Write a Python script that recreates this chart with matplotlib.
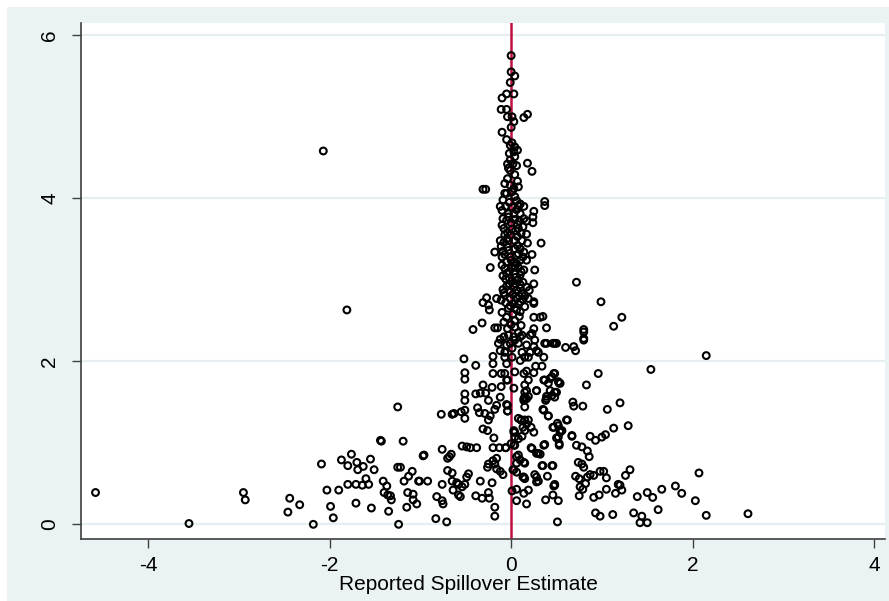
import matplotlib
matplotlib.use("Agg")
import matplotlib.pyplot as plt
from matplotlib.patches import Rectangle
import numpy as np

plt.rcParams['font.family'] = ['Liberation Sans', 'DejaVu Sans']

# estimates, (estimate, precision) pairs grouped by region
left_tail = [
    (-4.58, 0.39), (-3.55, 0.01), (-2.95, 0.39), (-2.93, 0.30), (-2.44, 0.32), (-2.46, 0.15),
    (-2.33, 0.24), (-2.18, 0.00), (-2.09, 0.74), (-2.03, 0.42), (-1.99, 0.22), (-1.96, 0.08),
    (-1.90, 0.42), (-1.87, 0.79), (-1.80, 0.72), (-1.76, 0.86), (-1.80, 0.49), (-1.71, 0.26),
    (-1.70, 0.76), (-1.69, 0.67), (-1.71, 0.49), (-1.64, 0.48), (-1.63, 0.71), (-1.60, 0.56),
    (-1.57, 0.49), (-1.55, 0.80), (-1.54, 0.20), (-1.51, 0.67), (-1.43, 1.02), (-1.41, 0.53),
    (-1.40, 0.39), (-1.37, 0.47), (-1.36, 0.36), (-1.35, 0.16), (-1.33, 0.35), (-1.32, 0.30),
    (-1.25, 0.70), (-1.22, 0.70), (-1.24, 0.00), (-1.19, 1.02), (-1.18, 0.53), (-1.15, 0.21),
    (-1.14, 0.39), (-1.13, 0.59), (-1.09, 0.65), (-1.08, 0.37), (-1.08, 0.30), (-1.04, 0.25),
    (-1.02, 0.53), (-0.96, 0.85), (-0.92, 0.53), (-1.25, 1.44), (-1.44, 1.03), (-2.07, 4.58),
    (-1.81, 2.63),
]

mid_left = [
    (-0.77, 1.35), (-0.65, 1.35), (-0.63, 1.36), (-0.76, 0.92), (-0.70, 0.81), (-0.66, 0.86),
    (-0.97, 0.84), (-0.70, 0.66), (-0.65, 0.63), (-1.01, 0.53), (-0.76, 0.49), (-0.65, 0.53),
    (-0.60, 0.51), (-0.64, 0.42), (-0.58, 0.36), (-0.82, 0.34), (-0.76, 0.29), (-0.75, 0.25),
    (-0.83, 0.07), (-0.71, 0.03), (-0.52, 2.03), (-0.39, 1.95), (-0.20, 1.97), (-0.51, 1.86),
    (-0.51, 1.78), (-0.20, 1.85), (-0.11, 1.85), (-0.05, 1.77), (-0.31, 1.71), (-0.21, 1.68),
    (-0.11, 1.69), (-0.51, 1.60), (-0.39, 1.60), (-0.34, 1.61), (-0.28, 1.61), (-0.51, 1.52),
    (-0.25, 1.52), (-0.12, 1.56), (-0.37, 1.43), (-0.16, 1.46), (-0.04, 1.46), (-0.55, 1.38),
    (-0.51, 1.40), (-0.51, 1.30), (-0.35, 1.37), (-0.29, 1.36), (-0.23, 1.33), (-0.25, 1.28),
    (-0.18, 1.41), (-0.04, 1.39), (-0.31, 1.17), (-0.26, 1.15), (-0.19, 1.06), (-0.54, 0.96),
    (-0.49, 0.95), (-0.45, 0.94), (-0.38, 0.94), (-0.20, 0.94), (-0.13, 0.94), (-0.06, 0.94),
    (-0.68, 0.83), (-0.16, 0.81), (-0.20, 0.78), (-0.25, 0.74), (-0.26, 0.70), (-0.18, 0.74),
    (-0.16, 0.68), (-0.12, 0.65), (-0.09, 0.61), (-0.58, 0.49), (-0.54, 0.46), (-0.51, 0.49),
    (-0.49, 0.58), (-0.47, 0.62), (-0.34, 0.53), (-0.21, 0.51), (-0.56, 0.34), (-0.39, 0.35),
    (-0.32, 0.32), (-0.24, 0.32), (-0.25, 0.39), (-0.18, 0.21), (-0.18, 0.10),
]

mid_right = [
    (0.01, 0.41), (0.06, 0.43), (0.06, 0.29), (0.17, 0.25), (0.19, 0.42), (0.14, 0.38),
    (0.02, 0.67), (0.06, 0.64), (0.14, 0.58), (0.15, 0.56), (0.06, 0.75), (0.10, 0.79),
    (0.15, 0.75), (0.08, 0.85), (0.22, 0.94), (0.30, 0.87), (0.32, 0.86), (0.37, 0.98),
    (0.26, 0.61), (0.28, 0.58), (0.30, 0.53), (0.40, 0.59), (0.47, 0.47), (0.48, 0.49),
    (0.46, 0.72), (0.35, 0.72), (0.38, 0.30), (0.52, 0.29), (0.51, 0.03), (0.00, 0.99),
    (0.03, 0.97), (0.04, 1.07), (0.03, 1.15), (0.08, 1.30), (0.11, 1.28), (0.15, 1.28),
    (0.19, 1.28), (0.13, 1.19), (0.17, 1.23), (0.22, 1.19), (0.25, 1.13), (0.04, 1.13),
    (0.08, 1.05), (0.12, 1.08), (0.15, 1.15), (0.36, 1.40), (0.41, 1.33), (0.46, 1.19),
    (0.51, 1.24), (0.56, 1.15), (0.52, 1.07), (0.53, 0.99), (0.61, 1.28), (0.68, 1.50),
    (0.69, 1.45), (0.79, 1.45), (0.14, 1.52), (0.15, 1.56), (0.19, 1.57), (0.17, 1.64),
    (0.28, 1.64), (0.38, 1.52), (0.39, 1.57), (0.43, 1.64), (0.48, 1.56), (0.50, 1.62),
    (0.36, 1.77), (0.41, 1.73), (0.45, 1.81), (0.48, 1.85), (0.52, 1.75), (0.54, 1.73),
    (0.83, 1.71), (0.15, 1.71), (0.19, 1.77), (0.14, 1.85), (0.17, 1.88), (0.25, 1.86),
    (0.27, 1.94), (0.34, 1.94), (0.36, 2.05), (0.80, 2.26), (0.60, 2.17), (0.69, 2.18),
    (0.71, 2.13), (0.48, 2.22), (0.46, 2.22), (0.37, 2.22), (0.96, 1.85),
    (-0.05, 2.20), (0.04, 2.26), (0.10, 2.30), (0.23, 2.34), (0.25, 2.18), (0.28, 2.13),
    (0.19, 2.05), (0.10, 2.01), (-0.05, 1.97), (0.04, 1.87), (-0.07, 1.85), (-0.04, 1.77),
    (0.03, 1.67), (-0.05, 1.47), (-0.04, 1.39), (0.15, 1.44), (0.17, 1.54), (0.28, 1.64),
    (0.11, 1.28), (0.03, 1.13), (0.04, 0.97), (-0.06, 0.94), (0.06, 0.83), (0.03, 0.67),
    (0.14, 0.76), (0.23, 0.93), (0.28, 0.87), (0.36, 0.97), (0.47, 1.19), (0.52, 1.21),
    (0.54, 1.13), (0.50, 1.06), (0.67, 1.08), (0.35, 1.41), (0.41, 1.33), (0.37, 1.77),
    (0.43, 1.79), (0.47, 1.85), (0.53, 1.73), (0.48, 1.62), (0.45, 1.58), (0.39, 1.54),
    (0.15, 1.62), (0.14, 1.54),
]

right_tail = [
    (1.54, 1.90), (1.20, 1.49), (1.06, 1.41), (1.29, 1.21), (1.13, 1.18), (1.04, 1.10),
    (1.00, 1.07), (0.93, 1.03), (0.87, 1.08), (1.31, 0.67), (1.26, 0.60), (1.18, 0.49),
    (1.20, 0.48), (1.15, 0.38), (1.22, 0.42), (0.98, 0.65), (1.02, 0.65), (1.05, 0.57),
    (1.05, 0.43), (0.97, 0.36), (0.91, 0.33), (1.39, 0.34), (1.50, 0.39), (1.56, 0.33),
    (1.66, 0.43), (1.81, 0.47), (1.88, 0.38), (2.03, 0.29), (2.07, 0.63), (1.62, 0.18),
    (0.93, 0.14), (0.98, 0.10), (1.12, 0.12), (1.35, 0.14), (1.44, 0.10), (1.42, 0.02),
    (1.50, 0.02), (2.15, 0.11), (2.61, 0.13), (0.87, 0.61), (0.91, 0.60), (0.84, 0.58),
    (0.80, 0.70), (0.78, 0.74), (0.74, 0.76), (0.71, 0.59), (0.75, 0.56), (0.76, 0.46),
    (0.75, 0.35), (0.82, 0.50), (0.79, 0.43), (0.86, 0.83), (0.84, 0.90), (0.78, 0.95),
    (0.72, 0.97), (0.62, 1.28), (0.67, 1.09), (0.54, 1.15), (0.53, 0.97), (0.80, 2.36),
    (0.46, 0.36), (0.48, 0.48), (0.34, 0.72), (0.45, 0.72), (0.28, 0.52), (0.13, 0.58),
    (2.15, 2.07), (1.13, 2.43), (1.22, 2.54), (0.99, 2.73), (0.80, 2.39), (0.80, 2.28),
    (0.72, 2.97),
]

column = [
    (0.00, 5.75), (0.00, 5.55), (0.04, 5.50), (-0.01, 5.42), (-0.05, 5.28), (0.03, 5.28),
    (-0.10, 5.23), (-0.11, 5.09), (-0.05, 5.09), (-0.04, 5.00), (0.01, 5.00), (0.03, 4.94),
    (0.00, 4.87), (0.18, 5.03), (0.14, 4.99), (-0.10, 4.81), (0.01, 4.68), (-0.01, 4.65),
    (0.04, 4.63), (0.07, 4.59), (-0.02, 4.55), (0.04, 4.51), (-0.01, 4.47), (-0.04, 4.42),
    (0.02, 4.42), (0.18, 4.43), (0.23, 4.33), (-0.01, 4.34), (0.04, 4.29), (-0.04, 4.24),
    (-0.07, 4.18), (-0.31, 4.11), (-0.28, 4.11), (-0.01, 4.16), (0.03, 4.12), (0.08, 4.14),
    (-0.07, 4.06), (-0.05, 4.06), (0.01, 4.08), (0.04, 4.02), (0.37, 3.96), (0.37, 3.91),
    (-0.12, 3.90), (-0.06, 3.90), (0.01, 3.89), (0.08, 3.91), (0.14, 3.90), (0.25, 3.84),
    (0.24, 3.77), (0.24, 3.70), (-0.03, 3.81), (0.03, 3.81), (0.10, 3.81), (-0.05, 3.73),
    (0.04, 3.74), (0.14, 3.75), (0.17, 3.72), (-0.08, 3.63), (0.01, 3.62), (0.08, 3.63),
    (0.11, 3.57), (0.17, 3.56), (-0.01, 3.55), (-0.07, 3.55), (-0.12, 3.48), (-0.08, 3.46),
    (-0.03, 3.48), (0.04, 3.48), (0.12, 3.48), (0.18, 3.45), (0.33, 3.45), (-0.18, 3.34),
    (-0.09, 3.35), (-0.03, 3.36), (0.04, 3.38), (0.08, 3.32), (0.14, 3.34), (0.23, 3.31),
    (-0.01, 3.28), (-0.05, 3.22), (0.03, 3.21), (0.10, 3.24), (0.17, 3.24), (-0.23, 3.15),
    (-0.07, 3.14), (0.01, 3.15), (0.08, 3.15), (0.14, 3.12), (0.26, 3.12), (-0.05, 3.08),
    (0.04, 3.07), (0.10, 3.06), (-0.06, 3.01), (0.01, 2.99), (0.08, 3.00), (0.13, 2.97),
    (0.25, 2.95), (-0.05, 2.92), (0.03, 2.91), (0.17, 2.91), (-0.01, 2.85), (0.06, 2.87),
    (0.12, 2.83), (0.20, 2.87), (-0.07, 2.81), (-0.27, 2.78), (-0.16, 2.77), (-0.31, 2.72),
    (-0.25, 2.69), (-0.24, 2.63), (-0.01, 2.77), (0.06, 2.77), (0.13, 2.76), (0.19, 2.77),
    (0.25, 2.71), (0.15, 2.67), (0.08, 2.70), (0.03, 2.71), (-0.03, 2.65), (0.06, 2.63),
    (-0.05, 2.54), (0.04, 2.50), (0.11, 2.44), (0.25, 2.54), (0.32, 2.54), (0.35, 2.55),
    (-0.42, 2.39), (-0.32, 2.47), (-0.18, 2.41), (-0.15, 2.41), (0.39, 2.41), (0.25, 2.40),
    (-0.04, 2.40), (0.04, 2.42), (-0.12, 2.27), (-0.08, 2.30), (0.03, 2.30), (0.12, 2.32),
    (0.21, 2.32), (0.26, 2.26), (0.39, 2.22), (0.50, 2.22), (-0.14, 2.22), (-0.01, 2.22),
    (0.08, 2.22), (0.17, 2.20), (-0.12, 2.13), (-0.07, 2.11), (0.01, 2.16), (0.12, 2.11),
    (0.21, 2.11), (0.30, 2.11), (-0.20, 2.06), (-0.07, 2.05), (0.01, 2.05), (0.15, 2.05),
    (0.25, 2.73), (-0.02, 3.95), (0.06, 3.97), (-0.09, 3.75), (0.07, 3.68), (-0.04, 3.40),
    (0.07, 3.42), (-0.10, 3.28), (0.06, 3.30), (-0.02, 3.10), (0.05, 2.95), (-0.09, 2.88),
    (0.09, 2.80), (-0.06, 2.72), (0.02, 2.58), (0.09, 2.55), (-0.08, 2.48), (0.08, 2.35),
    (-0.03, 2.32), (0.00, 3.70), (0.05, 3.60), (-0.05, 3.50), (0.06, 3.20), (-0.02, 3.02),
    (0.10, 2.90),
    # tightly packed core of the column
    (-0.09, 3.98), (0.10, 3.93), (-0.10, 3.85), (0.06, 3.86), (-0.03, 3.77), (0.09, 3.72),
    (-0.10, 3.67), (0.13, 3.65), (-0.04, 3.58), (0.07, 3.53), (-0.11, 3.41), (0.10, 3.38),
    (-0.07, 3.31), (0.13, 3.28), (0.00, 3.24), (-0.10, 3.18), (0.04, 3.17), (0.11, 3.10),
    (-0.09, 3.05), (0.05, 3.03), (-0.02, 2.95), (0.10, 2.94), (-0.08, 2.84), (0.02, 2.82),
    (0.15, 2.80), (-0.11, 2.75), (0.10, 2.73), (-0.01, 2.68), (-0.10, 2.60), (0.10, 2.61),
    (0.00, 2.45), (0.07, 4.21), (-0.03, 4.37), (0.06, 4.40), (0.03, 4.57), (-0.05, 4.72),
]

x_ticks = [-4, -2, 0, 2, 4]
y_ticks = [0, 2, 4, 6]
x_title = "Reported Spillover Estimate"

pts = np.array(left_tail + mid_left + mid_right + right_tail + column)

fig = plt.figure(figsize=(8.89, 6.01), dpi=100, facecolor='white')
# light outer region behind the plot area (white strip on the top and left edges)
bg = fig.add_axes([0, 0, 1, 1], zorder=-1)
bg.axis('off')
bg.add_patch(Rectangle((7 / 889, 0), 1 - 7 / 889, 594 / 601, transform=bg.transAxes,
                       facecolor='#EAF2F3', edgecolor='none'))

ax = fig.add_axes([81 / 889, 1 - 539 / 601, 804 / 889, 516 / 601], zorder=1)
ax.set_facecolor('white')

for yt in y_ticks:
    ax.axhline(yt, color='#E6EEF1', lw=1.6, zorder=1)
ax.axvline(0, color='#BE1040', lw=1.8, zorder=2)

ax.scatter(pts[:, 0], pts[:, 1], s=24, facecolors='none', edgecolors='black',
           linewidths=1.5, zorder=3)

ax.set_xlim(-4.74, 4.12)
ax.set_ylim(-0.18, 6.15)
ax.set_xticks(x_ticks)
ax.set_yticks(y_ticks)
ax.set_xticklabels([str(t) for t in x_ticks], fontsize=15)
ax.set_yticklabels([str(t) for t in y_ticks], fontsize=15, rotation=90, va='center')
ax.tick_params(axis='both', length=6.5, width=1, color='#404040')
ax.tick_params(axis='x', pad=6)
ax.tick_params(axis='y', pad=9)

for s in ['top', 'right']:
    ax.spines[s].set_visible(False)
for s in ['left', 'bottom']:
    ax.spines[s].set_color('#404040')
    ax.spines[s].set_linewidth(1.2)

ax.set_xlabel(x_title, fontsize=15)
ax.xaxis.set_label_coords(0.482, -0.070)

fig.savefig('out.png', dpi=100, facecolor=fig.get_facecolor())
